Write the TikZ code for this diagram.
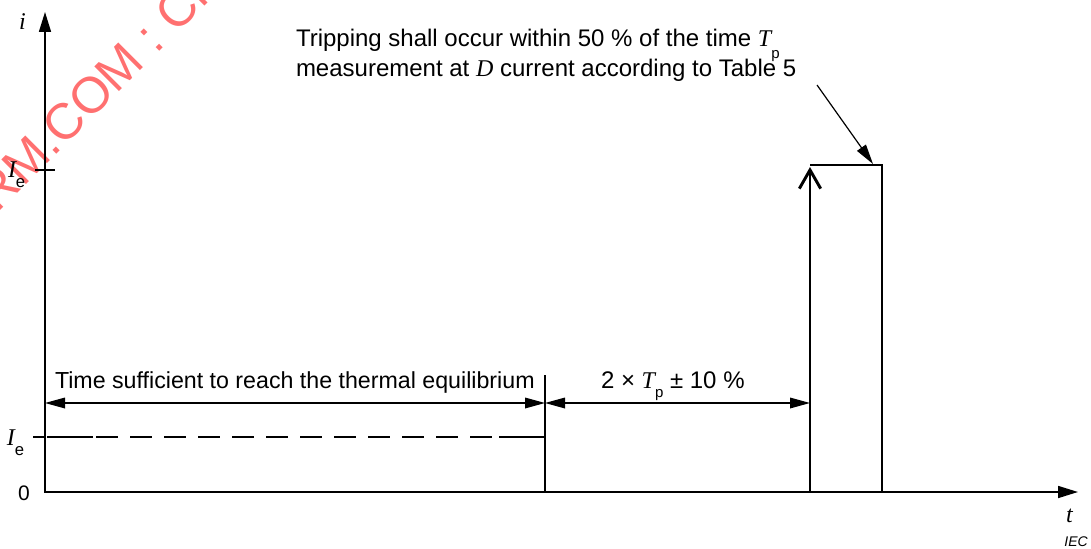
\documentclass[tikz,border=0pt]{standalone}
\usepackage{fontspec}
\setmainfont{Liberation Sans}
\newfontfamily\tnr{Liberation Serif}
\usetikzlibrary{arrows.meta}
\newcommand\itl[1]{{\tnr\itshape #1}}
\newcommand\subs[2]{\raisebox{-#2}{\fontsize{11.25pt}{11.25pt}\selectfont #1}}
\definecolor{wm}{RGB}{255,112,112}
\begin{document}
\begin{tikzpicture}[x=0.75pt,y=-0.75pt,
  txt/.style={inner sep=0pt,outer sep=0pt,anchor=base west,font=\fontsize{18pt}{22.5pt}\selectfont},
  axlab/.style={inner sep=0pt,outer sep=0pt,anchor=base west},
  axis/.style={line width=1.2pt,{Triangle[length=15pt,width=9pt]}-{Triangle[length=15pt,width=9pt]}},
  tick/.style={line width=1pt},
  wave/.style={line width=2.2pt},
  dim/.style={line width=0.9pt,{Triangle[length=15pt,width=8pt]}-{Triangle[length=15pt,width=8pt]}},
  ext/.style={line width=0.9pt},
  lead/.style={line width=0.9pt,-{Triangle[length=15pt,width=8pt]}}]
\useasboundingbox (0,0) rectangle (1091,549);
\clip (0,0) rectangle (1091,549);
% watermark
\node[inner sep=0pt,anchor=base west,rotate=45,text=wm,font=\fontsize{38pt}{38pt}\selectfont] (wmark) at (-2.7,213.7) {RM.COM : Cli};
% coordinates
\coordinate (O) at (45,492);
\coordinate (ytop) at (45,12);
\coordinate (xend) at (1078,492);
\coordinate (tk1a) at (35,170);
\coordinate (tk1b) at (55,170);
\coordinate (tk2a) at (33,437);
\coordinate (tk2b) at (45,437);
\coordinate (d0) at (47,437);
\coordinate (d1) at (93,437);
\coordinate (d2) at (96,437);
\coordinate (d3) at (492,437);
\coordinate (d4) at (499,437);
\coordinate (A) at (545,437);
\coordinate (B) at (545,492);
\coordinate (C) at (810,492);
\coordinate (Ctop) at (810,167);
\coordinate (Dl) at (810,165);
\coordinate (Dr) at (882,165);
\coordinate (E) at (882,492);
\coordinate (L1) at (45,403);
\coordinate (M1) at (545,403);
\coordinate (R1) at (810,403);
\coordinate (X1) at (545,375);
\coordinate (p1) at (817,85);
\coordinate (p2) at (873,164);
% axes
\draw[axis] (ytop) -- (O) -- (xend);
\draw[tick] (tk1a) -- (tk1b);
\draw[tick] (tk2a) -- (tk2b);
% waveform
\draw[wave] (d0) -- (d1);
\draw[wave,dash pattern=on 16.5pt off 9pt] (d2) -- (d3);
\draw[wave] (d4) -- (A) -- (B) -- (C);
\draw[wave,-{Straight Barb[length=14pt,width=16pt]}] (C) -- (Ctop);
\draw[wave] (Dl) -- (Dr) -- (E);
% dimensions
\draw[ext] (X1) -- (A);
\draw[dim] (L1) -- (M1);
\draw[dim] (M1) -- (R1);
\draw[lead] (p1) -- (p2);
% labels
\node[txt] (ann1) at (296,47) {Tripping shall occur within 50 \% of the time \itl{T}\subs{p}{9pt}};
\node[txt] (ann2) at (296,77) {measurement at \itl{D} current according to Table 5};
\node[txt,font=\fontsize{17.4pt}{20pt}\selectfont] (tsuf) at (55,388) {Time sufficient to reach the thermal equilibrium};
\node[txt] (tp) at (601,388) {2 × \itl{T}\subs{p}{6.75pt} ± 10 \%};
\node[axlab,font=\fontsize{18pt}{18pt}\selectfont] (ilab) at (19,30) {\itl{i}};
\node[axlab,font=\fontsize{18pt}{18pt}\selectfont] (tlab) at (1066,522) {\itl{t}};
\node[axlab,font=\fontsize{15.75pt}{15.75pt}\selectfont] (zero) at (18,500) {0};
\node[axlab,font=\fontsize{18pt}{18pt}\selectfont] (Ie1) at (8,177) {\itl{I}\raisebox{-8pt}{\fontsize{12.5pt}{12.5pt}\selectfont e}};
\node[axlab,font=\fontsize{18pt}{18pt}\selectfont] (Ie2) at (7,445) {\itl{I}\raisebox{-8pt}{\fontsize{12.5pt}{12.5pt}\selectfont e}};
\node[inner sep=0pt,anchor=base east,font=\fontsize{10.5pt}{10.5pt}\selectfont\itshape] (iec) at (1088,546) {IEC};
\end{tikzpicture}
\end{document}
